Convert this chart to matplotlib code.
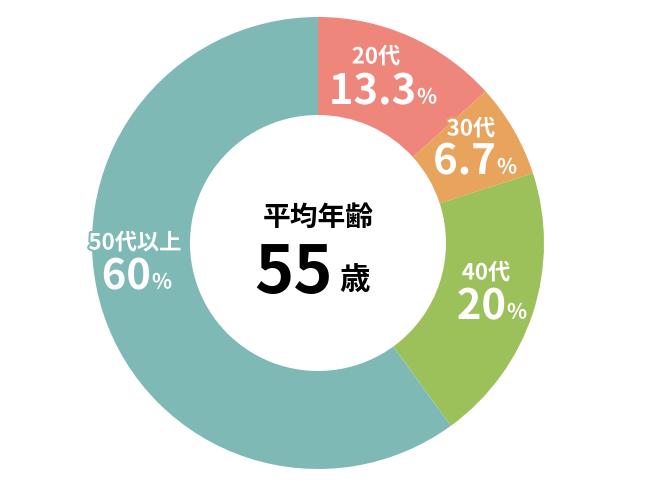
import matplotlib
matplotlib.use("Agg")
import matplotlib.pyplot as plt
import matplotlib.patheffects as pe

plt.rcParams['font.family'] = ['Noto Sans CJK JP', 'DejaVu Sans']

# ---- data ----
groups = ["20代", "30代", "40代", "50代以上"]
shares = [13.3, 6.7, 20.0, 60.0]
share_labels = ["13.3", "6.7", "20", "60"]
colors = ["#EE867B", "#E8A35D", "#9DC15A", "#7EB9B5"]
center_title = "平均年齢"
center_value = "55"
center_unit = "歳"

# label placement in pixel coords (y measured from the top)
name_pos = [(376, 57), (471, 129), (486, 273), (135, 243)]
num_pos = [(416, 92), (496, 162), (506, 307), (151, 277)]   # right edge, middle

fig = plt.figure(figsize=(6.5, 5.0), dpi=100)
ax = fig.add_axes([0, 0, 1, 1])

cx, cy, R, r_in = 318, 243, 226, 128
ax.pie(shares, colors=colors, startangle=90, counterclock=False,
       center=(cx, 500 - cy), radius=R,
       wedgeprops=dict(width=R - r_in, linewidth=0))
# pie resets the limits, so pin the axes to pixel coords afterwards
ax.set_xlim(0, 650)
ax.set_ylim(0, 500)
ax.set_aspect("equal")
ax.axis("off")


def y(py):
    return 500 - py


for (nx, ny), (vx, vy), g, s, c in zip(name_pos, num_pos, groups, share_labels, colors):
    stroke = [pe.withStroke(linewidth=3, foreground=c)]
    ax.text(nx, y(ny), g, ha="center", va="center", fontsize=16,
            fontweight="bold", color="white", path_effects=stroke)
    ax.text(vx, y(vy), s, ha="right", va="center", fontsize=30,
            fontweight="bold", color="white", path_effects=stroke)
    ax.text(vx + 1, y(vy + 5), "%", ha="left", va="center", fontsize=15,
            fontweight="bold", color="white", path_effects=stroke)

ax.text(cx, y(218), center_title, ha="center", va="center", fontsize=20,
        fontweight="bold", color="black")
ax.text(333, y(273), center_value, ha="right", va="center", fontsize=48,
        fontweight="bold", color="black")
ax.text(339, y(280), center_unit, ha="left", va="center", fontsize=22,
        fontweight="bold", color="black")

fig.savefig("out.png", dpi=100)
